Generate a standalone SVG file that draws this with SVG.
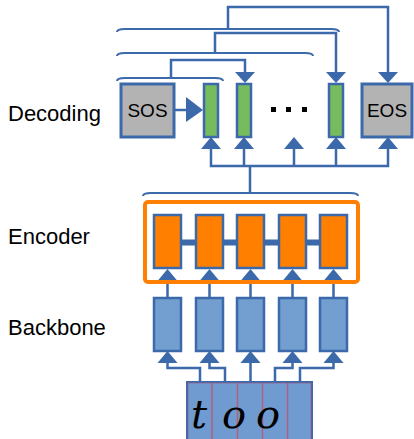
<svg xmlns="http://www.w3.org/2000/svg" width="414" height="439" viewBox="0 0 414 439">
<style>
.lbl{font-family:"Liberation Sans",Arial,sans-serif;font-size:22px;fill:#000}
.tok{font-family:"Liberation Sans",Arial,sans-serif;font-size:19px;fill:#000;text-anchor:middle}
.ln{fill:none;stroke:#3b69aa;stroke-width:2.5}
.br{fill:none;stroke:#3b69aa;stroke-width:2}
.ah{fill:#3b69aa}
.gray{fill:#b3b3b3;stroke:#3b69aa;stroke-width:3}
.green{fill:#77bb5f;stroke:#3b69aa;stroke-width:2.5}
.orange{fill:#ff8000;stroke:#3b69aa;stroke-width:2.5}
.bb{fill:#729fcf;stroke:#3b69aa;stroke-width:2.5}
.hw{font-family:"DejaVu Serif","Liberation Serif",serif;font-style:italic;font-size:40px;fill:#000}
</style>
<defs>
<path id="up" d="M-10,12 L0,0 L10,12 Z"/>
<path id="dn" d="M-10,-11 L10,-11 L0,0 Z"/>
</defs>

<g id="labels">
<text class="lbl" x="8" y="121">Decoding</text>
<text class="lbl" x="8" y="244">Encoder</text>
<text class="lbl" x="8" y="335">Backbone</text>
</g>

<g id="connectors">
<path class="br" d="M117,32 Q117,29 125,29 L331,29 Q339,29 339,32"/>
<path class="br" d="M117,56 Q117,53 125,53 L305,53 Q313,53 313,56"/>
<path class="br" d="M117,81 Q117,78 125,78 L215,78 Q223,78 223,81"/>
<path class="ln" d="M228,29 V7 H388 V73"/>
<path class="ln" d="M215,53 V33 H336 V73"/>
<path class="ln" d="M171,78 V60 H245 V73"/>
<use href="#dn" x="388" y="83" class="ah"/>
<use href="#dn" x="336" y="83" class="ah"/>
<use href="#dn" x="245" y="83" class="ah"/>
<path class="ln" d="M174,110 H188"/>
<path class="ah" d="M186,97 L203,110 L186,122 Z"/>
<path class="br" d="M143,196 Q143,193 151,193 L350,193 Q358,193 358,196"/>
<path class="ln" d="M250,193 V166"/>
<path class="ln" d="M211,148 V166 H388 V148"/>
<path class="ln" d="M244,148 V166 M294,148 V166 M336,148 V166"/>
<use href="#up" x="211" y="137" class="ah"/>
<use href="#up" x="244" y="137" class="ah"/>
<use href="#up" x="294" y="137" class="ah"/>
<use href="#up" x="336" y="137" class="ah"/>
<use href="#up" x="388" y="137" class="ah"/>
<path d="M167,242.5 H333" stroke="#3b69aa" stroke-width="6" fill="none"/>
<path class="ln" d="M167.5,298 V280 M209.5,298 V280 M250.5,298 V280 M292.5,298 V280 M333.5,298 V280"/>
<use href="#up" x="167.5" y="269" class="ah"/>
<use href="#up" x="209.5" y="269" class="ah"/>
<use href="#up" x="250.5" y="269" class="ah"/>
<use href="#up" x="292.5" y="269" class="ah"/>
<use href="#up" x="333.5" y="269" class="ah"/>
<path class="ln" d="M167.5,362 V368 H200 V382"/>
<path class="ln" d="M209.5,362 V368 H225 V382"/>
<path class="ln" d="M250.5,362 V382"/>
<path class="ln" d="M292.5,362 V368 H275 V382"/>
<path class="ln" d="M333.5,362 V368 H300 V382"/>
<use href="#up" x="167.5" y="351" class="ah"/>
<use href="#up" x="209.5" y="351" class="ah"/>
<use href="#up" x="250.5" y="351" class="ah"/>
<use href="#up" x="292.5" y="351" class="ah"/>
<use href="#up" x="333.5" y="351" class="ah"/>
</g>

<g id="sos"><rect class="gray" x="121" y="84" width="53" height="53"/><text class="tok" x="147.5" y="117">SOS</text></g>
<g id="dec1"><rect class="green" x="204" y="84" width="14" height="53"/></g>
<g id="dec2"><rect class="green" x="237" y="84" width="14" height="53"/></g>
<g id="dots"><rect x="271" y="107" width="5" height="5" fill="#000"/><rect x="286" y="107" width="5" height="5" fill="#000"/><rect x="302" y="107" width="5" height="5" fill="#000"/></g>
<g id="dec3"><rect class="green" x="329" y="84" width="14" height="53"/></g>
<g id="eos"><rect class="gray" x="362" y="84" width="50" height="53"/><text class="tok" x="387" y="117">EOS</text></g>

<g id="encoder">
<rect x="145" y="202" width="213" height="80" rx="3" fill="none" stroke="#ff8000" stroke-width="4"/>
<rect class="orange" x="154" y="215" width="27" height="53"/>
<rect class="orange" x="196" y="215" width="27" height="53"/>
<rect class="orange" x="237" y="215" width="27" height="53"/>
<rect class="orange" x="279" y="215" width="27" height="53"/>
<rect class="orange" x="320" y="215" width="27" height="53"/>
</g>

<g id="backbone">
<rect class="bb" x="154" y="298" width="27" height="53"/>
<rect class="bb" x="196" y="298" width="27" height="53"/>
<rect class="bb" x="237" y="298" width="27" height="53"/>
<rect class="bb" x="279" y="298" width="27" height="53"/>
<rect class="bb" x="320" y="298" width="27" height="53"/>
</g>

<g id="image">
<rect x="187" y="382" width="125" height="60" fill="#6f9bd0" stroke="#3b69aa" stroke-width="2"/>
<path d="M212,383 V439 M237.5,383 V439 M262.5,383 V439 M287.5,383 V439" stroke="#b06080" stroke-width="1.5" fill="none"/>
<path d="M188,383 V439 M311,383 V439 M188,383 H311" stroke="#a05a80" stroke-width="1" fill="none" opacity="0.7"/>
<text class="hw" x="191" y="428">t</text>
<text class="hw" x="222" y="428">o</text>
<text class="hw" x="256" y="428" fill="#3a0a0a">o</text>
</g>
</svg>
